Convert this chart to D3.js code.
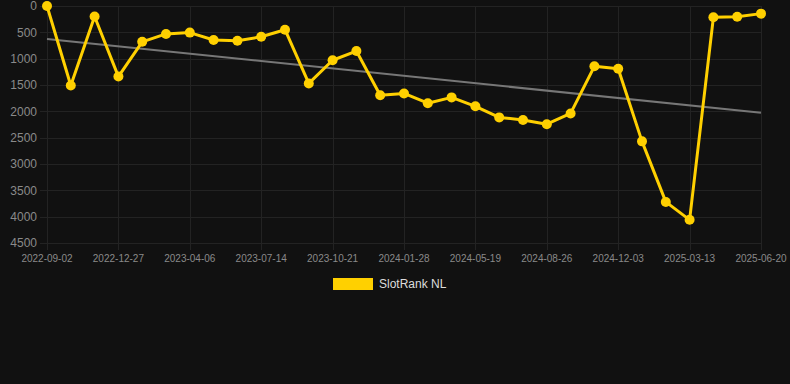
<!doctype html>
<html>
<head>
    <meta charset="utf-8">
    <title>SlotRank NL</title>
    <style>
        html, body { margin: 0; padding: 0; background: #111111; }
        svg { display: block; font-family: "Liberation Sans", Arial, sans-serif; }
    </style>
</head>
<body>
    <svg width="790" height="384"></svg>
    <script src="https://cdn.jsdelivr.net/npm/d3@7"></script>
    <script>
    // categories (x axis) - only every 3rd label is shown on the chart
    var dates = [
        "2022-09-02", "2022-10-11", "2022-11-19", "2022-12-27", "2023-01-30", "2023-03-04",
        "2023-04-06", "2023-05-09", "2023-06-11", "2023-07-14", "2023-08-16", "2023-09-18",
        "2023-10-21", "2023-11-23", "2023-12-26", "2024-01-28", "2024-03-03", "2024-04-10",
        "2024-05-19", "2024-06-21", "2024-07-24", "2024-08-26", "2024-09-27", "2024-10-30",
        "2024-12-03", "2025-01-05", "2025-02-08", "2025-03-13", "2025-04-15", "2025-05-18",
        "2025-06-20"
    ];
    // rank values per date
    var ranks = [
        0, 1510, 200, 1340, 680, 530, 505, 645, 660, 585, 450,
        1470, 1030, 855, 1695, 1660, 1845, 1735, 1905, 2115, 2165,
        2245, 2040, 1145, 1190, 2570, 3720, 4060, 215, 205, 145
    ];
    var yTicks = [0, 500, 1000, 1500, 2000, 2500, 3000, 3500, 4000, 4500];
    var seriesName = "SlotRank NL";

    var svg = d3.select("svg");
    var plotLeft = 47, plotRight = 761, plotTop = 6, plotBottom = 243;

    var x = d3.scalePoint()
        .domain(dates)
        .range([plotLeft, plotRight]);

    var y = d3.scaleLinear()
        .domain([0, 4500])
        .range([plotTop, plotBottom]);

    // horizontal grid
    svg.append("g")
        .selectAll("line")
        .data(yTicks)
        .enter().append("line")
        .attr("x1", 40)
        .attr("x2", plotRight)
        .attr("y1", function(d) { return Math.round(y(d)) + 0.5; })
        .attr("y2", function(d) { return Math.round(y(d)) + 0.5; })
        .attr("stroke", "#232323")
        .attr("stroke-width", 1);

    // vertical grid, only at shown labels
    var shown = dates.filter(function(d, i) { return i % 3 === 0; });
    svg.append("g")
        .selectAll("line")
        .data(shown)
        .enter().append("line")
        .attr("x1", function(d) { return Math.round(x(d)) + 0.5; })
        .attr("x2", function(d) { return Math.round(x(d)) + 0.5; })
        .attr("y1", plotTop)
        .attr("y2", plotBottom + 7)
        .attr("stroke", "#232323")
        .attr("stroke-width", 1);

    // y labels
    svg.append("g")
        .selectAll("text")
        .data(yTicks)
        .enter().append("text")
        .attr("x", 37)
        .attr("y", function(d) { return y(d); })
        .attr("dy", "0.35em")
        .attr("text-anchor", "end")
        .attr("font-size", 12)
        .attr("fill", "#8a8a8a")
        .text(function(d) { return d; });

    // x labels
    svg.append("g")
        .selectAll("text")
        .data(shown)
        .enter().append("text")
        .attr("x", function(d) { return x(d); })
        .attr("y", 262)
        .attr("text-anchor", "middle")
        .attr("font-size", 10)
        .attr("fill", "#8a8a8a")
        .text(function(d) { return d; });

    // trend line (least squares over the rank series)
    var n = ranks.length;
    var mx = d3.mean(ranks, function(d, i) { return i; });
    var my = d3.mean(ranks);
    var sxy = d3.sum(ranks, function(d, i) { return (i - mx) * (d - my); });
    var sxx = d3.sum(ranks, function(d, i) { return (i - mx) * (i - mx); });
    var slope = sxy / sxx;
    var icpt = my - slope * mx;

    svg.append("line")
        .attr("x1", x(dates[0]))
        .attr("y1", y(icpt))
        .attr("x2", x(dates[n - 1]))
        .attr("y2", y(icpt + slope * (n - 1)))
        .attr("stroke", "#777777")
        .attr("stroke-width", 2);

    // main series
    var line = d3.line()
        .x(function(d, i) { return x(dates[i]); })
        .y(function(d) { return y(d); });

    svg.append("path")
        .attr("d", line(ranks))
        .attr("fill", "none")
        .attr("stroke", "#ffd000")
        .attr("stroke-width", 3)
        .attr("stroke-linejoin", "round");

    svg.append("g")
        .selectAll("circle")
        .data(ranks)
        .enter().append("circle")
        .attr("cx", function(d, i) { return x(dates[i]); })
        .attr("cy", function(d) { return y(d); })
        .attr("r", 5)
        .attr("fill", "#ffd000");

    // legend
    svg.append("rect")
        .attr("x", 333)
        .attr("y", 278)
        .attr("width", 40)
        .attr("height", 12)
        .attr("fill", "#ffd000");

    svg.append("text")
        .attr("x", 379)
        .attr("y", 288)
        .attr("font-size", 12)
        .attr("fill", "#dddddd")
        .text(seriesName);
    </script>
</body>
</html>
